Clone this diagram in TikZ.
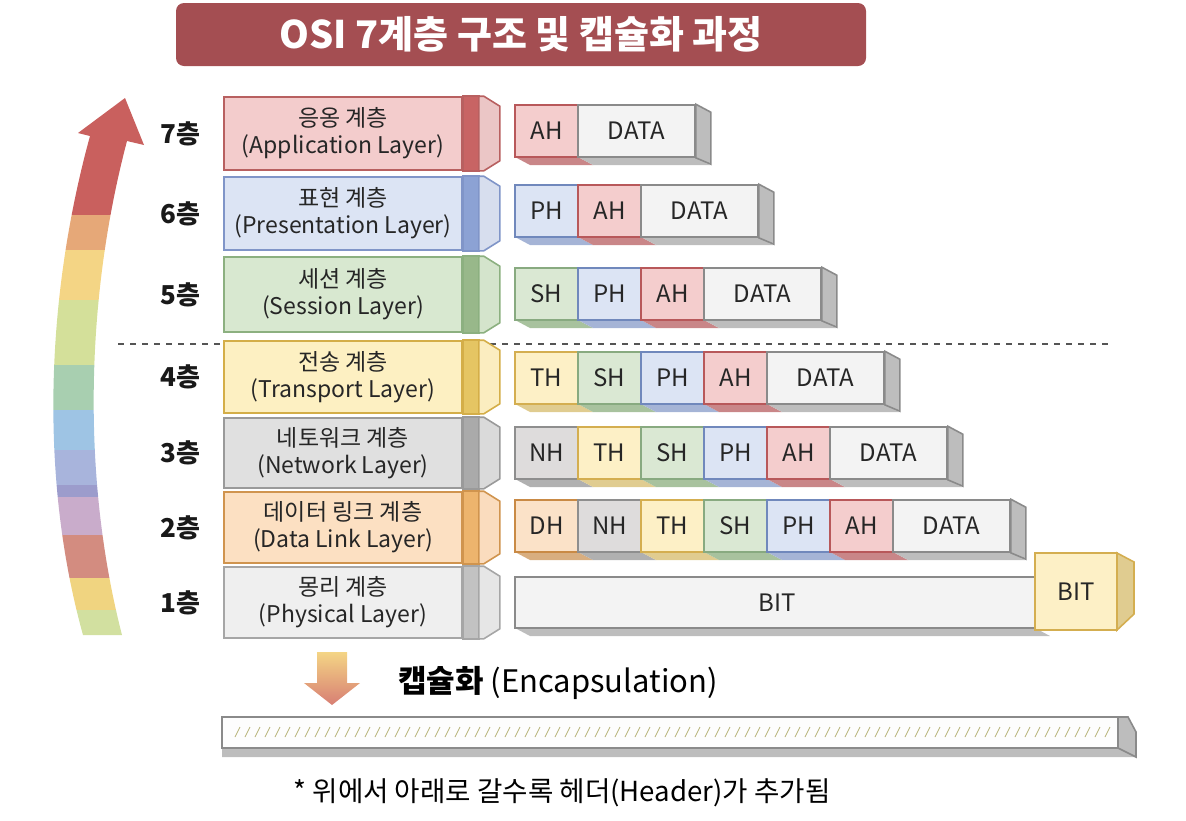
\documentclass[tikz,border=0pt]{standalone}
\usepackage{fontspec}
\setmainfont{Noto Sans CJK KR}
\usepackage{tikz}
\usetikzlibrary{arrows.meta,positioning,calc}

\definecolor{titlered}{HTML}{A44E52}
\definecolor{dashgray}{HTML}{555555}
% layer boxes: f fill, d border, s stripe, t tip
\definecolor{layf7}{HTML}{F3CCCC}\definecolor{layd7}{HTML}{B86060}\definecolor{lays7}{HTML}{C86464}\definecolor{layt7}{HTML}{EBC6C6}
\definecolor{layf6}{HTML}{DCE4F4}\definecolor{layd6}{HTML}{8095C8}\definecolor{lays6}{HTML}{8CA2D4}\definecolor{layt6}{HTML}{D7DEEE}
\definecolor{layf5}{HTML}{D8E8D0}\definecolor{layd5}{HTML}{8CB080}\definecolor{lays5}{HTML}{98B88A}\definecolor{layt5}{HTML}{D4E4CC}
\definecolor{layf4}{HTML}{FDF0C2}\definecolor{layd4}{HTML}{D4AE48}\definecolor{lays4}{HTML}{E5C563}\definecolor{layt4}{HTML}{FBEDC0}
\definecolor{layf3}{HTML}{E0E0E0}\definecolor{layd3}{HTML}{9A9A9A}\definecolor{lays3}{HTML}{AAAAAA}\definecolor{layt3}{HTML}{DADADA}
\definecolor{layf2}{HTML}{FCE0C2}\definecolor{layd2}{HTML}{D0944E}\definecolor{lays2}{HTML}{EDB46D}\definecolor{layt2}{HTML}{FADCBE}
\definecolor{layf1}{HTML}{EFEFEF}\definecolor{layd1}{HTML}{A6A6A6}\definecolor{lays1}{HTML}{C2C2C2}\definecolor{layt1}{HTML}{E6E6E6}
% header cells: f fill, d border, s shade
\definecolor{cfAH}{HTML}{F4CDCD}\definecolor{cdAH}{HTML}{B8585A}\definecolor{csAH}{HTML}{C98688}
\definecolor{cfPH}{HTML}{DCE4F4}\definecolor{cdPH}{HTML}{7088BC}\definecolor{csPH}{HTML}{A5B4D6}
\definecolor{cfSH}{HTML}{DAE8D3}\definecolor{cdSH}{HTML}{88AA80}\definecolor{csSH}{HTML}{A8C29E}
\definecolor{cfTH}{HTML}{FDF0C6}\definecolor{cdTH}{HTML}{D4AE50}\definecolor{csTH}{HTML}{E0CC90}
\definecolor{cfNH}{HTML}{DEDCDC}\definecolor{cdNH}{HTML}{8E8E8E}\definecolor{csNH}{HTML}{B0B0B0}
\definecolor{cfDH}{HTML}{FBE2C8}\definecolor{cdDH}{HTML}{C98A45}\definecolor{csDH}{HTML}{D8AE80}
\definecolor{cfDT}{HTML}{F3F3F3}\definecolor{cdDT}{HTML}{8A8A8A}\definecolor{csDT}{HTML}{BDBDBD}
% rainbow arrow bands
\definecolor{rb1}{HTML}{C9605E}\definecolor{rb2}{HTML}{E6A878}\definecolor{rb3}{HTML}{F4D585}
\definecolor{rb4}{HTML}{D4E09A}\definecolor{rb5}{HTML}{A8CFB0}\definecolor{rb6}{HTML}{9EC4E4}
\definecolor{rb7}{HTML}{A8B4DC}\definecolor{rb8}{HTML}{9C9CCC}\definecolor{rb9}{HTML}{C9ACCB}
\definecolor{rb10}{HTML}{D38C80}\definecolor{rb11}{HTML}{F0D480}\definecolor{rb12}{HTML}{D2E0A0}

\tikzset{
  layerbox/.style={rectangle, line width=0.8pt, minimum width=119pt, inner sep=0pt,
                   align=center, font=\fontsize{11.5}{13.5}\selectfont, text=black!85},
  numlabel/.style={font=\bfseries\fontsize{13}{15}\selectfont, text=black!90},
  cell/.style={rectangle, line width=0.8pt, minimum height=26pt, inner sep=0pt,
               font=\fontsize{12}{14}\selectfont, text=black!85},
}

\begin{document}
\begin{tikzpicture}[x=0.5pt, y=-0.5pt]
  \useasboundingbox (0,0) rectangle (1186,820);

  % title
  \node[fill=titlered, rounded corners=4pt, minimum width=345pt, minimum height=31.5pt,
        text=white, font=\bfseries\fontsize{19}{21}\selectfont] (title) at (521,34.5)
        {OSI 7계층 구조 및 캡슐화 과정};

  % rainbow arrow
  \begin{scope}
    \clip (83,635) .. controls (40,480) and (45,300) .. (90,136) -- (78,133) -- (125,98)
          -- (144,145) -- (127,141) .. controls (85,300) and (82,480) .. (122,635) -- cycle;
    \foreach \ya/\yb/\i in {90/215/1, 215/250/2, 250/300/3, 300/365/4, 365/410/5, 410/450/6,
                            450/485/7, 485/497/8, 497/535/9, 535/578/10, 578/610/11, 610/640/12}
      {\fill[rb\i] (30,\ya) rectangle (160,\yb);}
  \end{scope}

  \draw[dashgray, dashed, line width=0.8pt] (118,344) -- (1108,344);

  % layers
  \foreach \n/\y/\b/\ko/\en in {7/97/170/응옹 계층/Application Layer,
                                6/177/250/표현 계층/Presentation Layer,
                                5/257/332/세션 계층/Session Layer,
                                4/341/413/전송 계층/Transport Layer,
                                3/418/488/네토워크 계층/Network Layer,
                                2/492/563/데이터 링크 계층/Data Link Layer,
                                1/567/638/몽리 계층/Physical Layer}
  {
    \node[layerbox, fill=layf\n, draw=layd\n, minimum height={(\b-\y)*0.5pt}]
      (lay\n) at (343,{(\y+\b)/2}) {\ko\\(\en)};
    \draw[fill=lays\n, draw=layd\n, line width=0.8pt]
      (lay\n.north east) rectangle ($(lay\n.south east)+(16,0)$);
    \draw[fill=layt\n, draw=layd\n, line width=0.8pt]
      ($(lay\n.north east)+(16,0)$) -- ++(5,0) -- ++(16,10)
      -- ($(lay\n.south east)+(37,-10)$) -- ($(lay\n.south east)+(21,0)$)
      -- ($(lay\n.south east)+(16,0)$) -- cycle;
    \node[numlabel, left=8pt of lay\n] (num\n) {\n{}층};
  }

  % packets
  \foreach \r/\t/\k/\hs in {7/105/1/{AH}, 6/185/2/{PH,AH}, 5/268/3/{SH,PH,AH},
                            4/352/4/{TH,SH,PH,AH}, 3/427/5/{NH,TH,SH,PH,AH},
                            2/500/6/{DH,NH,TH,SH,PH,AH}}
  {
    \foreach \h [count=\i] in \hs {
      \fill[cs\h] ({515+(\i-1)*63},{\t+52}) -- ++(15,8) -- ++(63,0) -- ++(-15,-8) -- cycle;
      \node[cell, fill=cf\h, draw=cd\h, minimum width=31.5pt]
        (p\r-\i) at ({515+(\i-0.5)*63},{\t+26}) {\h};
    }
    \fill[csDT] ({515+\k*63},{\t+52}) -- ++(15,8) -- ++(117,0) -- ++(-15,-8) -- cycle;
    \node[cell, fill=cfDT, draw=cdDT, minimum width=58.5pt]
      (p\r-d) at ({515+\k*63+58.5},{\t+26}) {DATA};
    \draw[fill=csDT, draw=cdDT, line width=0.8pt]
      (p\r-d.north east) -- ++(15,8) -- ++(0,52) -- (p\r-d.south east) -- cycle;
  }

  % physical layer bits
  \fill[csDT] (515,628) -- ++(15,8) -- ++(520,0) -- ++(-15,-8) -- cycle;
  \node[cell, fill=cfDT, draw=cdDT, minimum width=262.5pt, minimum height=25.5pt]
    (p1-bit) at (777.5,602.5) {BIT};
  \draw[fill=csTH, draw=cdTH, line width=0.8pt]
    (1117,553) -- (1134,562) -- (1134,614) -- (1117,630) -- cycle;
  \node[cell, fill=cfTH, draw=cdTH, minimum width=41pt, minimum height=38.5pt]
    (bitcube) at (1076,591.5) {BIT};

  % encapsulation
  \shade[top color=rb3, bottom color=rb10!90!red]
    (317,652) -- (347,652) -- (347,683) -- (360,683) -- (332,705) -- (304,683) -- (317,683) -- cycle;
  \node[anchor=west, font=\fontsize{15.5}{18}\selectfont] (encap) at (391,683)
    {\textbf{캡슐화} (Encapsulation)};

  \fill[csDT] (222,748) -- (1118,748) -- (1136,757) -- (222,757) -- cycle;
  \draw[fill=csDT, draw=cdDT, line width=0.8pt]
    (1118,717) -- (1128,717) -- (1136,732) -- (1136,757) -- (1118,748) -- cycle;
  \node[rectangle, fill=cfDT!90!black!5, draw=cdDT, line width=0.8pt, minimum width=448pt,
        minimum height=15.5pt, inner sep=0pt] (stream) at (670,732.5) {};
  \foreach \x in {235,245,...,1105}
    {\draw[black!30!olive!50, line width=0.4pt] (\x,737) -- ++(5,-10);}

  \node[font=\fontsize{13.8}{16}\selectfont] (note) at (562,793)
    {* 위에서 아래로 갈수록 헤더(Header)가 추가됨};
\end{tikzpicture}
\end{document}
